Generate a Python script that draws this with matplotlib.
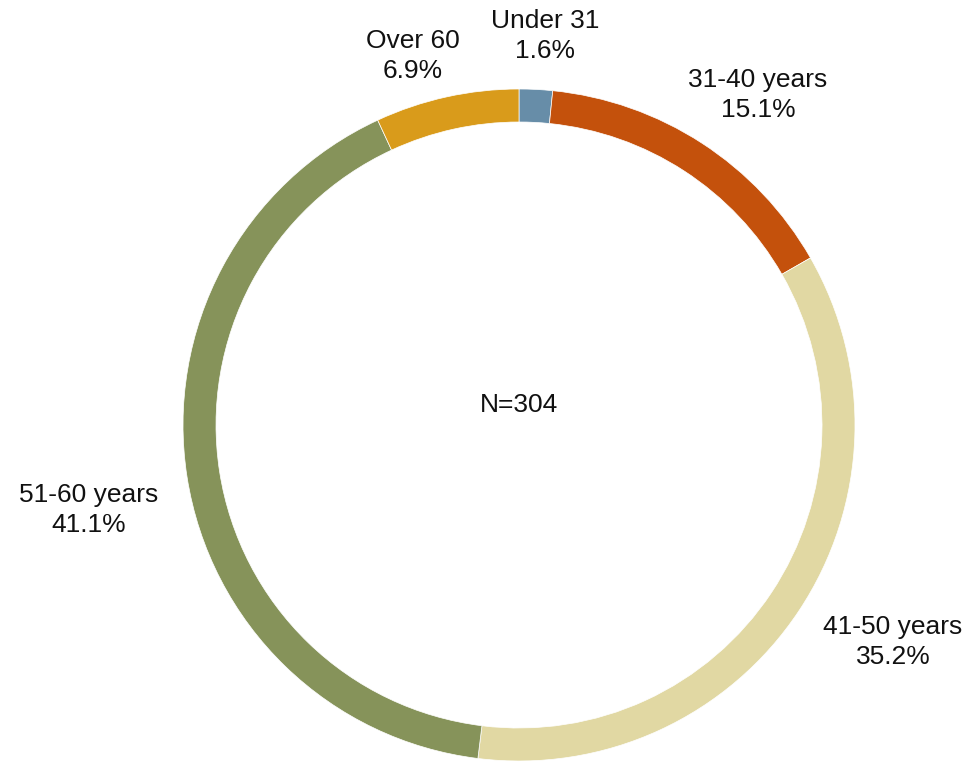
import matplotlib.pyplot as plt

# data
groups = ['Under 31', '31-40 years', '41-50 years', '51-60 years', 'Over 60']
shares = [1.6, 15.1, 35.2, 41.1, 6.9]
colors = ['#678DA8', '#C4510C', '#E1D8A3', '#86935A', '#D99B1B']
total_n = 304

# label centres in pixel coords (x, y from top)
label_pos = [(545, 36), (758, 95), (893, 642), (89, 510), (413, 56)]

plt.rcParams['font.family'] = ['Liberation Sans', 'DejaVu Sans']

W, H = 972, 762
fig = plt.figure(figsize=(W / 100, H / 100), dpi=100)
ax = fig.add_axes([0, 0, 1, 1])

cx, cy, r = 519, H - 425, 336
ax.pie(shares, colors=colors, startangle=90, counterclock=False,
       center=(cx, cy), radius=r,
       wedgeprops=dict(width=33, edgecolor='white', linewidth=0.5))
ax.set_xlim(0, W)
ax.set_ylim(0, H)
ax.set_aspect('equal')
ax.axis('off')

for g, s, (x, y) in zip(groups, shares, label_pos):
    ax.text(x, H - y, f'{g}\n{s:.1f}%', ha='center', va='center',
            fontsize=19, color='#111111', linespacing=1.35)

ax.text(cx, H - 405, f'N={total_n}', ha='center', va='center',
        fontsize=19, color='#111111')

fig.savefig('out.png', dpi=100)
